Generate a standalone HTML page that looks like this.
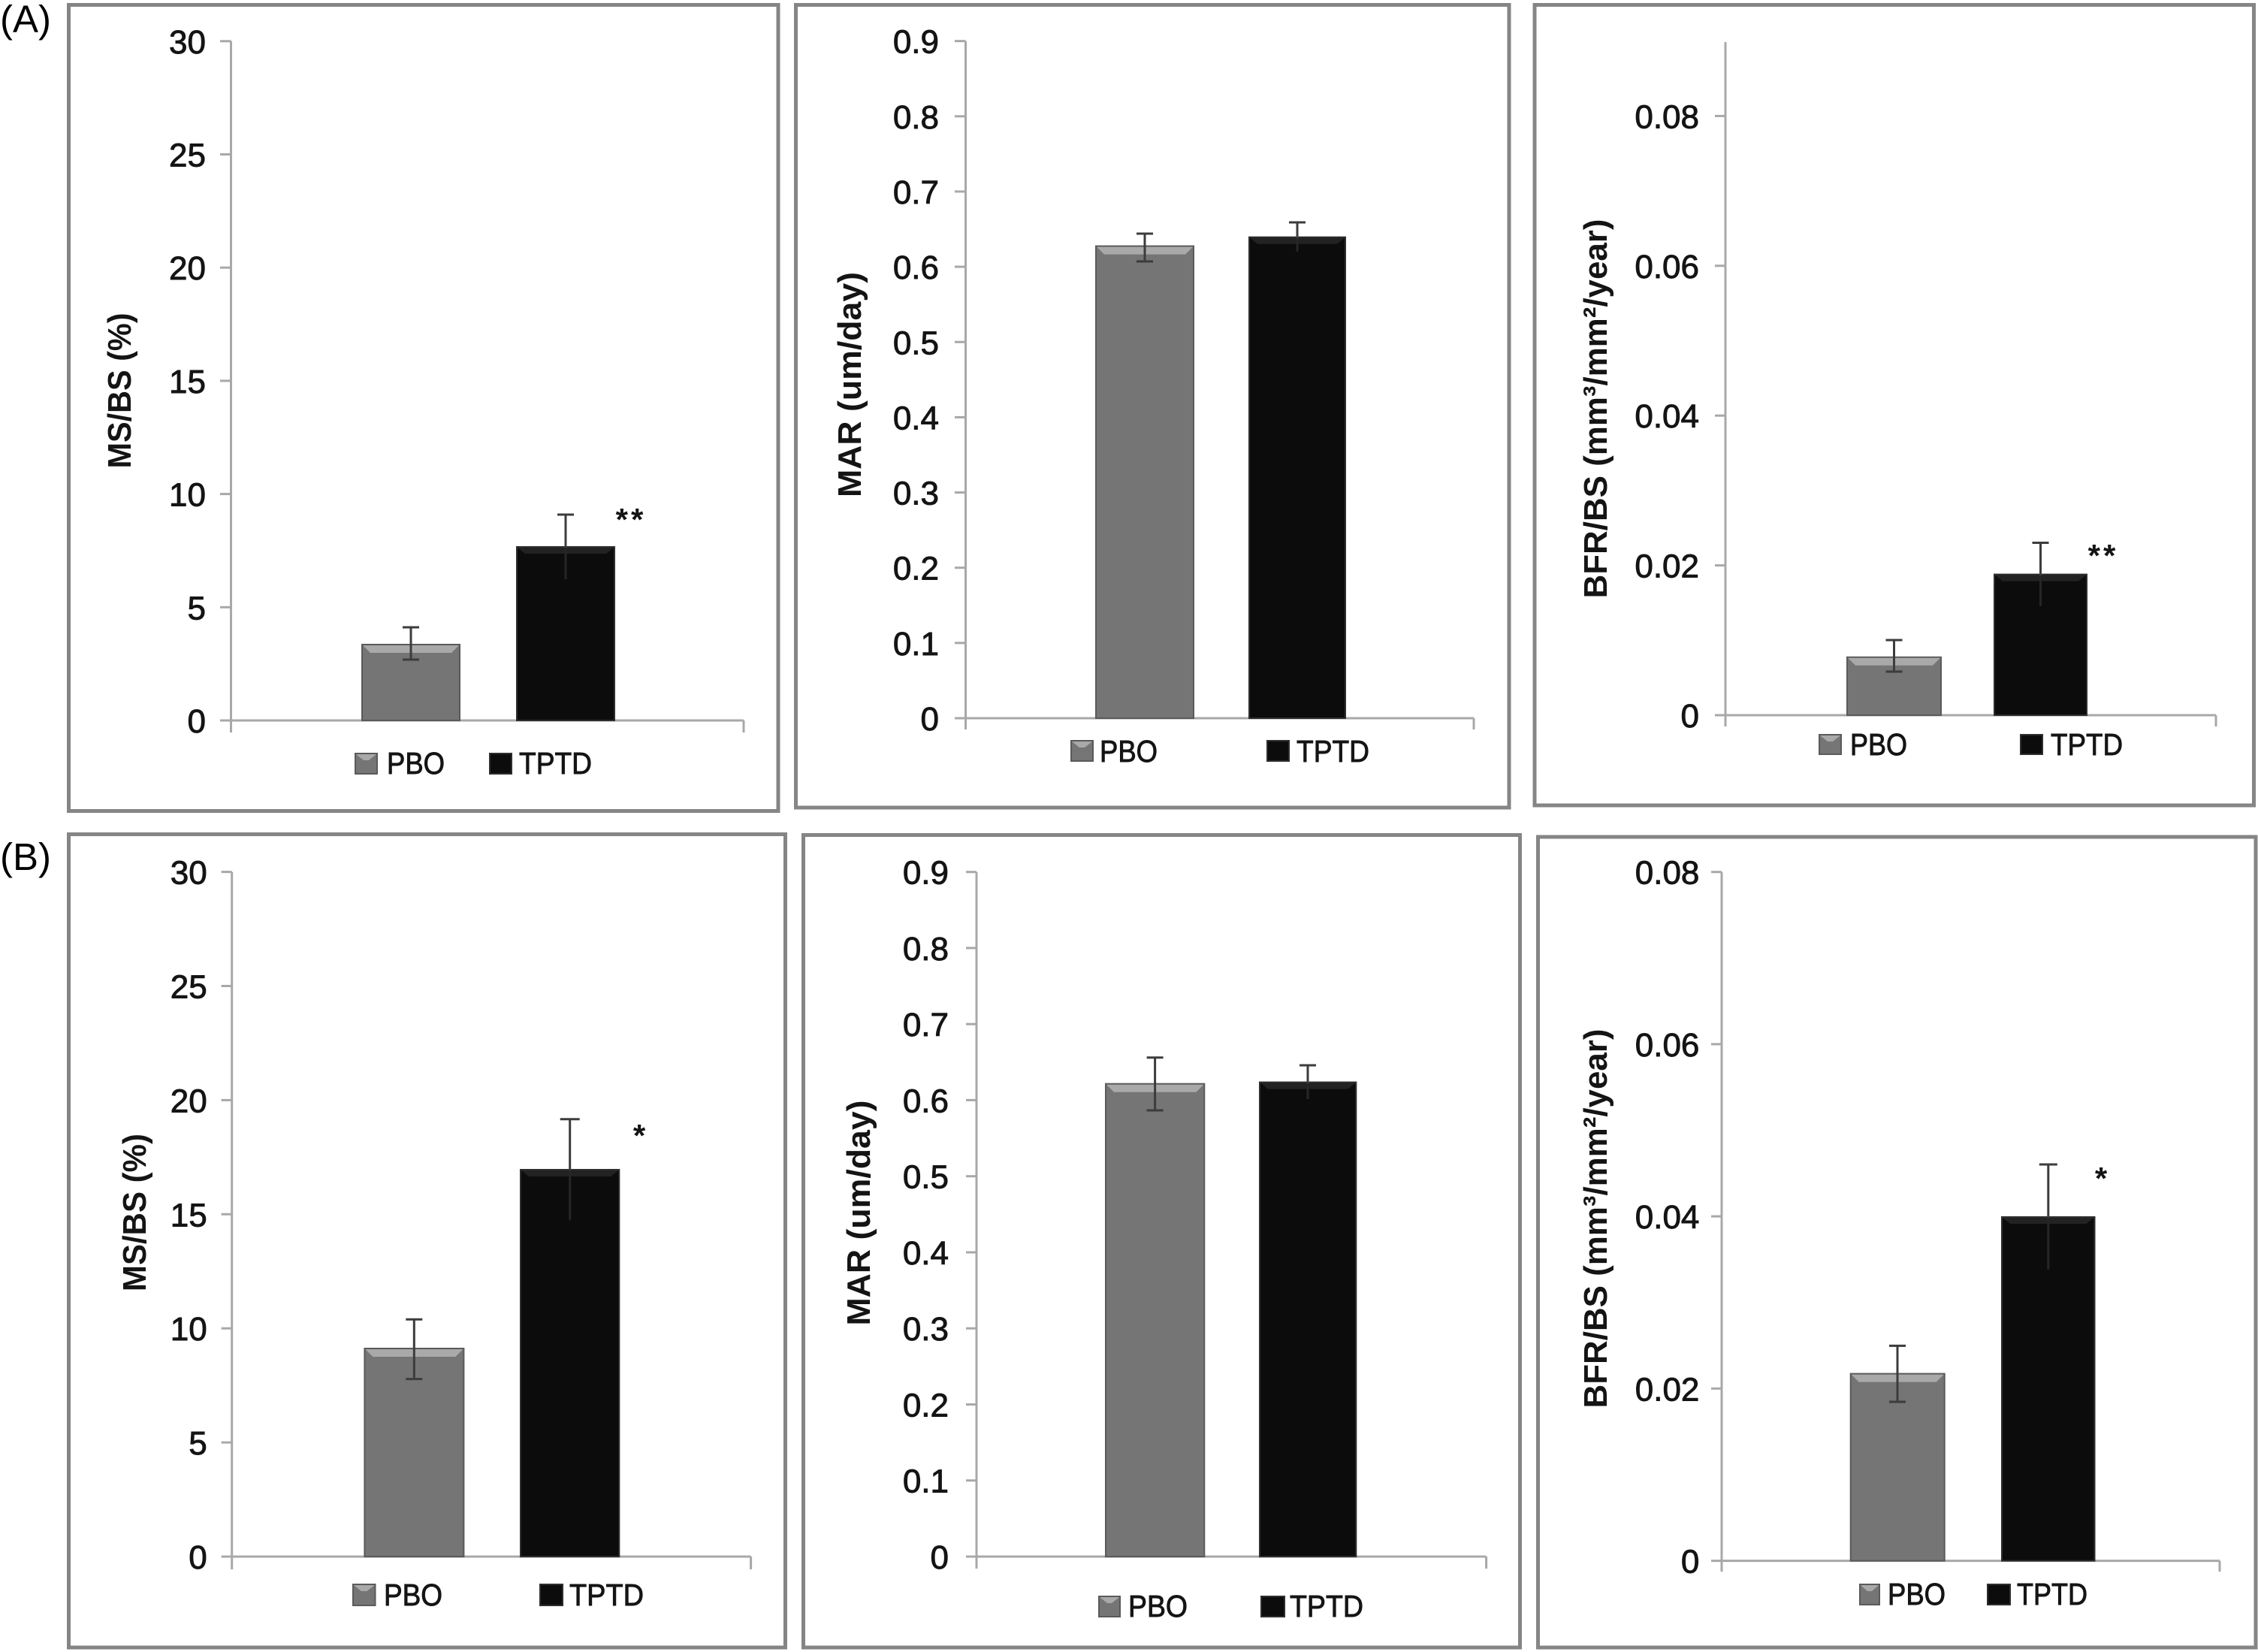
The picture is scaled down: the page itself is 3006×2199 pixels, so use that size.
<!DOCTYPE html>
<html><head><meta charset="utf-8"><style>
html,body{margin:0;padding:0;background:#fff;}
svg{display:block;}
.tk{font-family:"Liberation Sans",Arial,sans-serif;font-size:44px;fill:#141414;stroke:#141414;stroke-width:0.9;text-anchor:end;}
.lg{font-family:"Liberation Sans",Arial,sans-serif;font-size:41px;fill:#141414;stroke:#141414;stroke-width:0.9;}
.yl{font-family:"Liberation Sans",Arial,sans-serif;font-size:44px;font-weight:bold;fill:#141414;text-anchor:middle;}
.st{font-family:"Liberation Sans",Arial,sans-serif;font-size:42px;font-weight:bold;fill:#141414;text-anchor:middle;letter-spacing:4px;}
.pl{font-family:"Liberation Sans",Arial,sans-serif;font-size:51px;fill:#000;}
.ax{stroke:#a8a8a8;stroke-width:3;fill:none;}
.bd{stroke:#858585;stroke-width:5;fill:none;}
.eb{stroke:#3c3c3c;stroke-width:3;fill:none;}
.ebd{stroke:#262626;stroke-width:3;fill:none;}
.pb{fill:#757575;stroke:#5a5a5a;stroke-width:2;}
.pbh{fill:#a9a9a9;}
.tp{fill:#0c0c0c;stroke:#2e2e2e;stroke-width:2;}
.tph{fill:#222;}
</style></head><body>
<svg width="3006" height="2199" viewBox="0 0 3006 2199" xmlns="http://www.w3.org/2000/svg">
<rect x="0" y="0" width="3006" height="2199" fill="#fff"/>

<text class="pl" x="0" y="43">(A)</text>
<text class="pl" x="0" y="1158">(B)</text>

<rect class="bd" x="91.5" y="6.5" width="944.5" height="1073"/>
<rect class="bd" x="1059.5" y="6.5" width="949.5" height="1068.5"/>
<rect class="bd" x="2043" y="6.5" width="957.5" height="1065.5"/>
<rect class="bd" x="91.5" y="1110.5" width="954" height="1082.5"/>
<rect class="bd" x="1069.5" y="1111.5" width="954" height="1081.5"/>
<rect class="bd" x="2047.5" y="1114" width="955.5" height="1079"/>

<!-- A1 -->
<g>
<line class="ax" x1="307.5" y1="54.7" x2="307.5" y2="975"/>
<line class="ax" x1="293" y1="959" x2="990" y2="959"/>
<line class="ax" x1="990" y1="959" x2="990" y2="975"/>
<line class="ax" x1="293" y1="808.3" x2="307.5" y2="808.3"/>
<line class="ax" x1="293" y1="657.6" x2="307.5" y2="657.6"/>
<line class="ax" x1="293" y1="506.9" x2="307.5" y2="506.9"/>
<line class="ax" x1="293" y1="356.2" x2="307.5" y2="356.2"/>
<line class="ax" x1="293" y1="205.5" x2="307.5" y2="205.5"/>
<line class="ax" x1="293" y1="54.8" x2="307.5" y2="54.8"/>
<text class="tk" x="274" y="975">0</text>
<text class="tk" x="274" y="824.3">5</text>
<text class="tk" x="274" y="673.6">10</text>
<text class="tk" x="274" y="522.9">15</text>
<text class="tk" x="274" y="372.2">20</text>
<text class="tk" x="274" y="221.5">25</text>
<text class="tk" x="274" y="70.8">30</text>
<rect class="pb" x="482" y="858" width="130" height="101"/>
<polygon class="pbh" points="483,859 611,859 601,869 493,869"/>
<rect class="tp" x="688" y="728" width="130" height="231"/>
<polygon class="tph" points="689,729 817,729 807,737 699,737"/>
<line class="eb" x1="547" y1="835" x2="547" y2="878"/><line class="eb" x1="536" y1="835" x2="558" y2="835"/><line class="eb" x1="536" y1="878" x2="558" y2="878"/>
<line class="eb" x1="753" y1="685" x2="753" y2="729"/><line class="ebd" x1="753" y1="729" x2="753" y2="771"/><line class="eb" x1="742" y1="685" x2="764" y2="685"/>
<text class="st" x="840" y="706">**</text>
<rect class="pb" x="473" y="1003" width="29" height="27"/><polygon class="pbh" points="474,1004 501,1004 491,1012 484,1012"/>
<text class="lg" x="515" y="1030" textLength="77" lengthAdjust="spacingAndGlyphs">PBO</text>
<rect class="tp" x="652" y="1003" width="29" height="27"/>
<text class="lg" x="691" y="1030" textLength="97" lengthAdjust="spacingAndGlyphs">TPTD</text>
<text class="yl" transform="translate(174,520) rotate(-90)" textLength="207" lengthAdjust="spacingAndGlyphs">MS/BS (%)</text>
</g>

<!-- A2 -->
<g>
<line class="ax" x1="1285.5" y1="54.7" x2="1285.5" y2="971"/>
<line class="ax" x1="1271" y1="956" x2="1962" y2="956"/>
<line class="ax" x1="1962" y1="956" x2="1962" y2="971"/>
<line class="ax" x1="1271" y1="855.85" x2="1285.5" y2="855.85"/>
<line class="ax" x1="1271" y1="755.7" x2="1285.5" y2="755.7"/>
<line class="ax" x1="1271" y1="655.55" x2="1285.5" y2="655.55"/>
<line class="ax" x1="1271" y1="555.4" x2="1285.5" y2="555.4"/>
<line class="ax" x1="1271" y1="455.25" x2="1285.5" y2="455.25"/>
<line class="ax" x1="1271" y1="355.1" x2="1285.5" y2="355.1"/>
<line class="ax" x1="1271" y1="254.95" x2="1285.5" y2="254.95"/>
<line class="ax" x1="1271" y1="154.8" x2="1285.5" y2="154.8"/>
<line class="ax" x1="1271" y1="54.65" x2="1285.5" y2="54.65"/>
<text class="tk" x="1250" y="972">0</text>
<text class="tk" x="1250" y="871.85">0.1</text>
<text class="tk" x="1250" y="771.7">0.2</text>
<text class="tk" x="1250" y="671.55">0.3</text>
<text class="tk" x="1250" y="571.4">0.4</text>
<text class="tk" x="1250" y="471.25">0.5</text>
<text class="tk" x="1250" y="371.1">0.6</text>
<text class="tk" x="1250" y="270.95">0.7</text>
<text class="tk" x="1250" y="170.8">0.8</text>
<text class="tk" x="1250" y="70.65">0.9</text>
<rect class="pb" x="1459" y="327.6" width="130" height="628.4"/>
<polygon class="pbh" points="1460,328.6 1588,328.6 1578,338.6 1470,338.6"/>
<rect class="tp" x="1663" y="315.7" width="128" height="640.3"/>
<polygon class="tph" points="1664,316.7 1790,316.7 1780,324.7 1674,324.7"/>
<line class="eb" x1="1524" y1="311" x2="1524" y2="348"/><line class="eb" x1="1513" y1="311" x2="1535" y2="311"/><line class="eb" x1="1513" y1="348" x2="1535" y2="348"/>
<line class="eb" x1="1727" y1="296" x2="1727" y2="317"/><line class="ebd" x1="1727" y1="317" x2="1727" y2="335"/><line class="eb" x1="1716" y1="296" x2="1738" y2="296"/>
<rect class="pb" x="1426" y="986" width="29" height="27"/><polygon class="pbh" points="1427,987 1454,987 1444,995 1437,995"/>
<text class="lg" x="1464" y="1014" textLength="77" lengthAdjust="spacingAndGlyphs">PBO</text>
<rect class="tp" x="1687" y="986" width="29" height="27"/>
<text class="lg" x="1726" y="1014" textLength="97" lengthAdjust="spacingAndGlyphs">TPTD</text>
<text class="yl" transform="translate(1146,512) rotate(-90)" textLength="300" lengthAdjust="spacingAndGlyphs">MAR (um/day)</text>
</g>

<!-- A3 -->
<g>
<line class="ax" x1="2297" y1="56" x2="2297" y2="967"/>
<line class="ax" x1="2283" y1="952" x2="2950" y2="952"/>
<line class="ax" x1="2950" y1="952" x2="2950" y2="967"/>
<line class="ax" x1="2283" y1="752.6" x2="2297" y2="752.6"/>
<line class="ax" x1="2283" y1="553.2" x2="2297" y2="553.2"/>
<line class="ax" x1="2283" y1="353.8" x2="2297" y2="353.8"/>
<line class="ax" x1="2283" y1="154.4" x2="2297" y2="154.4"/>
<text class="tk" x="2262" y="968">0</text>
<text class="tk" x="2262" y="768.6">0.02</text>
<text class="tk" x="2262" y="569.2">0.04</text>
<text class="tk" x="2262" y="369.8">0.06</text>
<text class="tk" x="2262" y="170.4">0.08</text>
<rect class="pb" x="2459" y="874.8" width="125" height="77.2"/>
<polygon class="pbh" points="2460,875.8 2583,875.8 2573,885.8 2470,885.8"/>
<rect class="tp" x="2655" y="764.6" width="123" height="187.4"/>
<polygon class="tph" points="2656,765.6 2777,765.6 2767,773.6 2666,773.6"/>
<line class="eb" x1="2521.5" y1="852" x2="2521.5" y2="894"/><line class="eb" x1="2510.5" y1="852" x2="2532.5" y2="852"/><line class="eb" x1="2510.5" y1="894" x2="2532.5" y2="894"/>
<line class="eb" x1="2716.5" y1="722.5" x2="2716.5" y2="766"/><line class="ebd" x1="2716.5" y1="766" x2="2716.5" y2="806.7"/><line class="eb" x1="2705.5" y1="722.5" x2="2727.5" y2="722.5"/>
<text class="st" x="2800" y="754">**</text>
<rect class="pb" x="2422" y="978" width="29" height="26"/><polygon class="pbh" points="2423,979 2450,979 2440,987 2433,987"/>
<text class="lg" x="2463" y="1005" textLength="76" lengthAdjust="spacingAndGlyphs">PBO</text>
<rect class="tp" x="2690" y="978" width="29" height="26"/>
<text class="lg" x="2730" y="1005" textLength="96" lengthAdjust="spacingAndGlyphs">TPTD</text>
<text class="yl" transform="translate(2139,544) rotate(-90)" textLength="505" lengthAdjust="spacingAndGlyphs">BFR/BS (mm³/mm²/year)</text>
</g>

<!-- B1 -->
<g>
<line class="ax" x1="308.7" y1="1160.7" x2="308.7" y2="2089"/>
<line class="ax" x1="294.6" y1="2072" x2="999.6" y2="2072"/>
<line class="ax" x1="999.6" y1="2072" x2="999.6" y2="2089"/>
<line class="ax" x1="294.6" y1="1920.1" x2="308.7" y2="1920.1"/>
<line class="ax" x1="294.6" y1="1768.2" x2="308.7" y2="1768.2"/>
<line class="ax" x1="294.6" y1="1616.3" x2="308.7" y2="1616.3"/>
<line class="ax" x1="294.6" y1="1464.4" x2="308.7" y2="1464.4"/>
<line class="ax" x1="294.6" y1="1312.5" x2="308.7" y2="1312.5"/>
<line class="ax" x1="294.6" y1="1160.6" x2="308.7" y2="1160.6"/>
<text class="tk" x="275.7" y="2088">0</text>
<text class="tk" x="275.7" y="1936.1">5</text>
<text class="tk" x="275.7" y="1784.2">10</text>
<text class="tk" x="275.7" y="1632.3">15</text>
<text class="tk" x="275.7" y="1480.4">20</text>
<text class="tk" x="275.7" y="1328.5">25</text>
<text class="tk" x="275.7" y="1176.6">30</text>
<rect class="pb" x="485.4" y="1795" width="132" height="277"/>
<polygon class="pbh" points="486.4,1796 616.4,1796 606.4,1806 496.4,1806"/>
<rect class="tp" x="693" y="1557" width="131.3" height="515"/>
<polygon class="tph" points="694,1558 823.3,1558 813.3,1566 704,1566"/>
<line class="eb" x1="551.3" y1="1756.3" x2="551.3" y2="1835.6"/><line class="eb" x1="540.3" y1="1756.3" x2="562.3" y2="1756.3"/><line class="eb" x1="540.3" y1="1835.6" x2="562.3" y2="1835.6"/>
<line class="eb" x1="758.7" y1="1489.7" x2="758.7" y2="1558"/><line class="ebd" x1="758.7" y1="1558" x2="758.7" y2="1624.3"/><line class="eb" x1="745.7" y1="1489.7" x2="771.7" y2="1489.7"/>
<text class="st" x="853" y="1526">*</text>
<rect class="pb" x="470" y="2109" width="29.5" height="28"/><polygon class="pbh" points="471,2110 498.5,2110 488.5,2118 481,2118"/>
<text class="lg" x="511" y="2137" textLength="78" lengthAdjust="spacingAndGlyphs">PBO</text>
<rect class="tp" x="719" y="2109" width="30" height="28"/>
<text class="lg" x="758" y="2137" textLength="99" lengthAdjust="spacingAndGlyphs">TPTD</text>
<text class="yl" transform="translate(194,1614) rotate(-90)" textLength="210" lengthAdjust="spacingAndGlyphs">MS/BS (%)</text>
</g>

<!-- B2 -->
<g>
<line class="ax" x1="1300" y1="1160.7" x2="1300" y2="2088"/>
<line class="ax" x1="1286" y1="2072" x2="1978.6" y2="2072"/>
<line class="ax" x1="1978.6" y1="2072" x2="1978.6" y2="2088"/>
<line class="ax" x1="1286" y1="1970.7" x2="1300" y2="1970.7"/>
<line class="ax" x1="1286" y1="1869.5" x2="1300" y2="1869.5"/>
<line class="ax" x1="1286" y1="1768.2" x2="1300" y2="1768.2"/>
<line class="ax" x1="1286" y1="1667" x2="1300" y2="1667"/>
<line class="ax" x1="1286" y1="1565.7" x2="1300" y2="1565.7"/>
<line class="ax" x1="1286" y1="1464.4" x2="1300" y2="1464.4"/>
<line class="ax" x1="1286" y1="1363.2" x2="1300" y2="1363.2"/>
<line class="ax" x1="1286" y1="1261.9" x2="1300" y2="1261.9"/>
<line class="ax" x1="1286" y1="1160.7" x2="1300" y2="1160.7"/>
<text class="tk" x="1263" y="2088">0</text>
<text class="tk" x="1263" y="1986.7">0.1</text>
<text class="tk" x="1263" y="1885.5">0.2</text>
<text class="tk" x="1263" y="1784.2">0.3</text>
<text class="tk" x="1263" y="1683">0.4</text>
<text class="tk" x="1263" y="1581.7">0.5</text>
<text class="tk" x="1263" y="1480.4">0.6</text>
<text class="tk" x="1263" y="1379.2">0.7</text>
<text class="tk" x="1263" y="1277.9">0.8</text>
<text class="tk" x="1263" y="1176.7">0.9</text>
<rect class="pb" x="1472" y="1442.7" width="131.3" height="629.3"/>
<polygon class="pbh" points="1473,1443.7 1602.3,1443.7 1592.3,1453.7 1483,1453.7"/>
<rect class="tp" x="1677" y="1440.6" width="128.3" height="631.4"/>
<polygon class="tph" points="1678,1441.6 1804.3,1441.6 1794.3,1449.6 1688,1449.6"/>
<line class="eb" x1="1537.6" y1="1407.7" x2="1537.6" y2="1478"/><line class="eb" x1="1526.6" y1="1407.7" x2="1548.6" y2="1407.7"/><line class="eb" x1="1526.6" y1="1478" x2="1548.6" y2="1478"/>
<line class="eb" x1="1741" y1="1418" x2="1741" y2="1442"/><line class="ebd" x1="1741" y1="1442" x2="1741" y2="1463"/><line class="eb" x1="1730" y1="1418" x2="1752" y2="1418"/>
<rect class="pb" x="1463" y="2125" width="28" height="27"/><polygon class="pbh" points="1464,2126 1490,2126 1480,2134 1474,2134"/>
<text class="lg" x="1502" y="2152" textLength="79" lengthAdjust="spacingAndGlyphs">PBO</text>
<rect class="tp" x="1679" y="2125" width="31" height="27"/>
<text class="lg" x="1717" y="2152" textLength="98" lengthAdjust="spacingAndGlyphs">TPTD</text>
<text class="yl" transform="translate(1158,1614.5) rotate(-90)" textLength="300" lengthAdjust="spacingAndGlyphs">MAR (um/day)</text>
</g>

<!-- B3 -->
<g>
<line class="ax" x1="2292" y1="1160.7" x2="2292" y2="2092"/>
<line class="ax" x1="2278" y1="2077.6" x2="2955" y2="2077.6"/>
<line class="ax" x1="2955" y1="2077.6" x2="2955" y2="2092"/>
<line class="ax" x1="2278" y1="1848.3" x2="2292" y2="1848.3"/>
<line class="ax" x1="2278" y1="1619.1" x2="2292" y2="1619.1"/>
<line class="ax" x1="2278" y1="1389.9" x2="2292" y2="1389.9"/>
<line class="ax" x1="2278" y1="1160.7" x2="2292" y2="1160.7"/>
<text class="tk" x="2262.4" y="2093.6">0</text>
<text class="tk" x="2262.4" y="1864.3">0.02</text>
<text class="tk" x="2262.4" y="1635.1">0.04</text>
<text class="tk" x="2262.4" y="1405.9">0.06</text>
<text class="tk" x="2262.4" y="1176.7">0.08</text>
<rect class="pb" x="2463.7" y="1828.6" width="125" height="249"/>
<polygon class="pbh" points="2464.7,1829.6 2587.7,1829.6 2577.7,1839.6 2474.7,1839.6"/>
<rect class="tp" x="2665" y="1620" width="123.5" height="457.6"/>
<polygon class="tph" points="2666,1621 2787.5,1621 2777.5,1629 2676,1629"/>
<line class="eb" x1="2526" y1="1791.4" x2="2526" y2="1866"/><line class="eb" x1="2515" y1="1791.4" x2="2537" y2="1791.4"/><line class="eb" x1="2515" y1="1866" x2="2537" y2="1866"/>
<line class="eb" x1="2726.8" y1="1550" x2="2726.8" y2="1621"/><line class="ebd" x1="2726.8" y1="1621" x2="2726.8" y2="1690"/><line class="eb" x1="2714.8" y1="1550" x2="2738.8" y2="1550"/>
<text class="st" x="2799" y="1583">*</text>
<rect class="pb" x="2476" y="2109" width="26" height="27"/><polygon class="pbh" points="2477,2110 2501,2110 2492,2118 2486,2118"/>
<text class="lg" x="2513" y="2136" textLength="77" lengthAdjust="spacingAndGlyphs">PBO</text>
<rect class="tp" x="2646" y="2109" width="30" height="27"/>
<text class="lg" x="2685" y="2136" textLength="94" lengthAdjust="spacingAndGlyphs">TPTD</text>
<text class="yl" transform="translate(2139,1622) rotate(-90)" textLength="505" lengthAdjust="spacingAndGlyphs">BFR/BS (mm³/mm²/year)</text>
</g>
</svg>
</body></html>
